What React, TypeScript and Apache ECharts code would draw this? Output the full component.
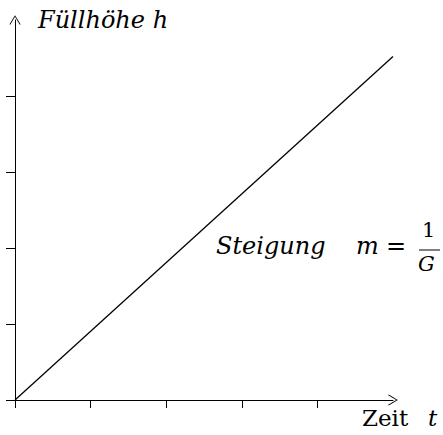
import React, { useEffect, useRef } from "react";
import * as echarts from "echarts";

const xTicks = [0, 1, 2, 3, 4];
const yTicks = [0, 1, 2, 3, 4];
const lineData: [number, number][] = [
  [0, 0],
  [5, 4.52],
];
const yAxisTitle = "Füllhöhe h";
const xAxisWord = "Zeit";
const xAxisVar = "t";
const slopeWord = "Steigung";

const chevron = "path://M0,0 L6,10 L5.2,10.6 L0,1.8 L-5.2,10.6 L-6,10 Z";

const SERIF = "'DejaVu Serif', serif";

function txt(text: string, left: number, top: number, size: number, italic: boolean) {
  return {
    type: "text",
    left,
    top,
    style: {
      text,
      fontFamily: SERIF,
      fontStyle: italic ? "italic" : "normal",
      fontSize: size,
      fill: "#000",
    },
  };
}

export default function App() {
  const ref = useRef<HTMLDivElement>(null);
  useEffect(() => {
    const chart = echarts.init(ref.current!, null, { renderer: "svg" });
    const axisCommon = {
      type: "value" as const,
      min: 0,
      max: 5,
      interval: 1,
      splitLine: { show: false },
      axisLabel: { show: false },
      axisLine: {
        show: true,
        symbol: ["none", chevron],
        symbolSize: [11, 14],
        lineStyle: { color: "#000", width: 1 },
      },
    };
    chart.setOption({
      animation: false,
      grid: { left: 15, right: 50, top: 20, bottom: 35 },
      xAxis: {
        ...axisCommon,
        axisTick: { show: true, length: 8, customValues: xTicks, lineStyle: { color: "#000" } },
      },
      yAxis: {
        ...axisCommon,
        axisTick: { show: true, length: 9, customValues: yTicks, lineStyle: { color: "#000" } },
      },
      series: [
        {
          type: "line",
          data: lineData,
          symbol: "none",
          lineStyle: { color: "#000", width: 1.3 },
        },
      ],
      graphic: [
        txt(yAxisTitle, 38, 8, 24, true),
        txt(xAxisWord, 362, 406, 23, false),
        txt(xAxisVar, 428, 406, 23, true),
        txt(slopeWord, 216, 234, 24, true),
        txt("m", 356, 234, 24, true),
        txt("=", 386, 234, 24, false),
        txt("1", 422, 219, 21, false),
        {
          type: "line",
          shape: { x1: 419, y1: 250, x2: 440, y2: 250 },
          style: { stroke: "#000", lineWidth: 1 },
        },
        txt("G", 418, 253, 21, true),
      ],
    });
    return () => chart.dispose();
  }, []);
  return <div ref={ref} style={{ width: 443, height: 435, position: "absolute", left: 0, top: 0 }} />;
}
